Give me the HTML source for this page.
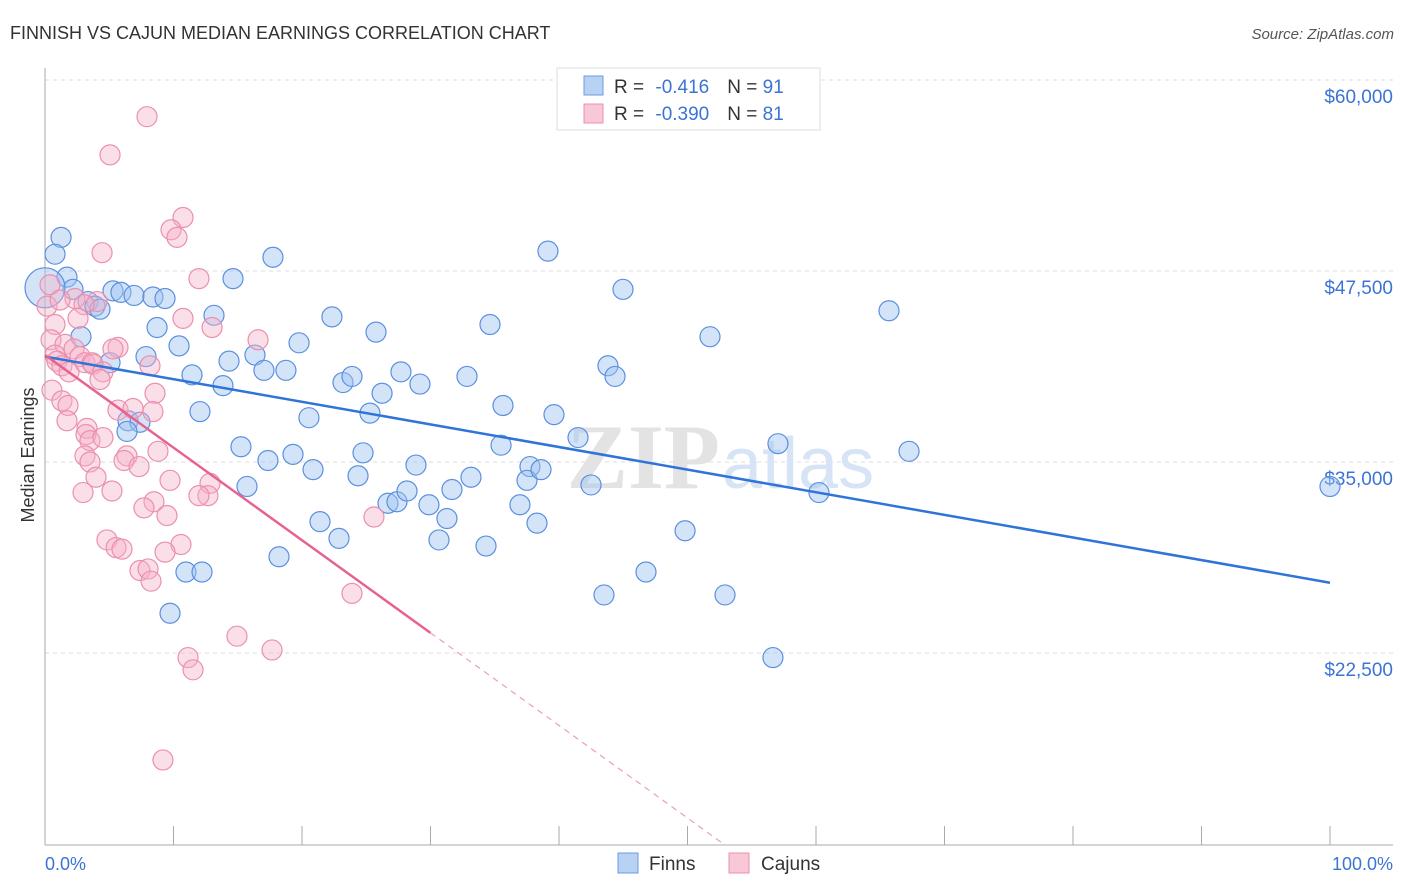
<!DOCTYPE html>
<html><head><meta charset="utf-8"><style>
body{margin:0;background:#fff;font-family:"Liberation Sans",sans-serif;}
#wrap{position:relative;width:1406px;height:892px;overflow:hidden;}
</style></head><body>
<div id="wrap">
<svg id="svg" width="1406" height="892" xmlns="http://www.w3.org/2000/svg">
<text x="10" y="39" font-size="18" fill="#333">FINNISH VS CAJUN MEDIAN EARNINGS CORRELATION CHART</text>
<text x="1394" y="39" font-size="15" fill="#555" font-style="italic" text-anchor="end">Source: ZipAtlas.com</text>
<g id="grid"></g>
<text x="720" y="488" font-size="92" font-weight="bold" fill="#e3e3e3" text-anchor="end" font-family="Liberation Serif,serif">ZIP</text>
<text x="722" y="488" font-size="72" fill="#d6e4f5">atlas</text>
<g id="pts"></g>
<g id="lines"></g>
<text x="34" y="455" font-size="18" fill="#333" text-anchor="middle" transform="rotate(-90 34 455)">Median Earnings</text>
<text x="45" y="870" font-size="18" fill="#3b74d4">0.0%</text>
<text x="1393" y="870" font-size="18" fill="#3b74d4" text-anchor="end">100.0%</text>
<g>
<rect x="557" y="68" width="263" height="62" fill="#fff" stroke="#ddd"/>
<rect x="584" y="76" width="19" height="19" fill="#b8d2f3" stroke="#6b9be0"/>
<rect x="584" y="104" width="19" height="19" fill="#f8c8d7" stroke="#ec8fae"/>
<text x="614" y="93" font-size="19" fill="#333">R = <tspan fill="#3b74d4" dx="6">-0.416</tspan><tspan dx="18">N = </tspan><tspan fill="#3b74d4">91</tspan></text>
<text x="614" y="120" font-size="19" fill="#333">R = <tspan fill="#3b74d4" dx="6">-0.390</tspan><tspan dx="18">N = </tspan><tspan fill="#3b74d4">81</tspan></text>
</g>
<rect x="618" y="853" width="20" height="20" fill="#b8d2f3" stroke="#6b9be0"/>
<text x="649" y="870" font-size="19" fill="#333">Finns</text>
<rect x="729" y="853" width="20" height="20" fill="#f8c8d7" stroke="#ec8fae"/>
<text x="761" y="870" font-size="19" fill="#333">Cajuns</text>
</svg>
</div>
<script>
const yTicks=[60000,47500,35000,22500];
const yTickLabels=["$60,000","$47,500","$35,000","$22,500"];
const finnsX=[1.25,0.78,1.71,2.18,0,3.35,3.89,4.28,5.29,5.91,6.93,8.40,9.34,2.80,5.06,6.46,7.39,6.38,7.86,8.72,10.43,11.44,12.06,13.15,13.85,14.32,14.63,16.34,17.04,17.74,18.75,19.77,20.54,15.25,15.72,17.35,19.30,20.86,18.21,21.40,22.88,22.33,23.19,23.89,24.36,24.75,25.29,25.76,26.23,26.69,27.39,27.70,28.17,28.87,29.18,29.88,30.66,31.28,31.67,32.84,33.15,34.32,34.63,35.64,35.49,36.96,37.74,37.51,38.29,38.60,39.14,39.61,41.48,42.49,43.50,43.81,44.36,44.98,46.77,49.81,51.75,52.92,57.04,56.65,60.23,65.68,67.24,100,9.73,10.97,12.22];
const finnsY=[49700,48600,47100,46300,46400,45500,45200,45000,46200,46100,45900,45800,45700,43200,41500,37700,37600,37000,41900,43800,42600,40700,38300,44600,40000,41600,47000,42000,41000,48400,41000,42800,37900,36000,33400,35100,35500,34500,28800,31100,30000,44500,40200,40600,34100,35600,38200,43500,39500,32300,32400,40900,33100,34800,40100,32200,29900,31300,33200,40600,34000,29500,44000,38700,36100,32200,34700,33800,31000,34500,48800,38100,36600,33500,26300,41300,40600,46300,27800,30500,43200,26300,36200,22200,33000,44900,35700,33400,25100,27800,27800];
const cajunsX=[7.94,5.06,10.74,9.81,10.27,4.44,11.98,0.39,0.16,0.78,0.47,1.56,0.78,0.93,2.26,2.72,1.32,1.87,3.11,3.66,4.05,2.33,3.04,3.74,4.51,4.28,5.68,5.29,10.74,13.00,16.58,8.17,0.54,1.32,1.79,1.71,3.27,3.19,3.50,4.51,5.68,6.85,8.56,8.40,3.11,3.50,6.38,6.15,8.79,7.32,9.73,3.97,2.96,5.21,8.48,7.70,9.49,12.84,12.68,11.98,25.60,4.82,5.53,5.99,10.58,9.34,7.39,8.02,8.25,23.89,14.94,17.67,11.13,11.52,9.18,2.57,1.17];
const cajunsY=[57600,55100,51000,50200,49700,48700,47000,46600,45200,44000,43000,42700,42000,41600,42400,41900,41300,40900,41500,41500,45500,45700,45300,41400,40900,40400,42500,42400,44400,43800,43000,41300,39700,39000,38700,37700,37200,36800,36400,36600,38400,38500,39500,38300,35400,35000,35400,35100,35700,34700,33800,34000,33000,33100,32400,32000,31500,33600,32800,32800,31400,29900,29400,29300,29600,29100,27900,28000,27200,26400,23600,22700,22200,21400,15500,44400,45600];
const finnsSize=[];finnsSize[4]=2;
const trendFinns=[41900,27100];
const trendCajuns=[42000,-606];
const NS="http://www.w3.org/2000/svg";
const X=p=>45+p*12.85, Y=v=>80+(60000-v)*0.01528;
function mk(t,a,parent){const e=document.createElementNS(NS,t);for(const k in a)e.setAttribute(k,a[k]);parent.appendChild(e);return e;}
const grid=document.getElementById('grid');
yTicks.forEach((v,i)=>{
 const l=mk('line',{x1:45,x2:1393,y1:Y(v),y2:Y(v),stroke:'#ddd','stroke-dasharray':'4,4'},grid);
 
 
 const t=mk('text',{x:1393,y:Y(v)+23,'font-size':19,fill:'#3b74d4','text-anchor':'end'},grid);
 t.textContent=yTickLabels[i];
 
 
});
const ax=mk('line',{x1:45,x2:45,y1:68,y2:845,stroke:'#aaa'},grid);


const bx=mk('line',{x1:45,x2:1393,y1:845,y2:845,stroke:'#aaa'},grid);


for(let k=1;k<=10;k++){const tk=mk('line',{x1:X(k*10),x2:X(k*10),y1:826,y2:845,stroke:'#aaa'},grid);
 
 }
const pts=document.getElementById('pts');
finnsX.forEach((p,i)=>{const c=mk('circle',{cx:X(p),cy:Y(finnsY[i]),r:finnsSize[i]?20:10,fill:'rgba(160,196,240,0.45)',stroke:'#5b8fe0','stroke-width':1.2},pts);
 
 });
cajunsX.forEach((p,i)=>{const c=mk('circle',{cx:X(p),cy:Y(cajunsY[i]),r:10,fill:'rgba(245,175,198,0.4)',stroke:'#ec8fae','stroke-width':1.2},pts);
 
 });
const lines=document.getElementById('lines');
const fl=mk('line',{x1:X(0),y1:Y(trendFinns[0]),x2:X(100),y2:Y(trendFinns[1]),stroke:'#2f74d8','stroke-width':2.5},lines);


const cv=p=>trendCajuns[0]+trendCajuns[1]*p;
const cl=mk('line',{x1:X(0),y1:Y(cv(0)),x2:X(30),y2:Y(cv(30)),stroke:'#e8628f','stroke-width':2.5},lines);


const pEnd=(trendCajuns[0]-(60000-(845-80)/0.01528))/(-trendCajuns[1]);
const cd=mk('line',{x1:X(30),y1:Y(cv(30)),x2:X(pEnd),y2:Y(cv(pEnd)),stroke:'#e8a0b8','stroke-width':1.2,'stroke-dasharray':'6,5'},lines);


</script>
</body></html>
